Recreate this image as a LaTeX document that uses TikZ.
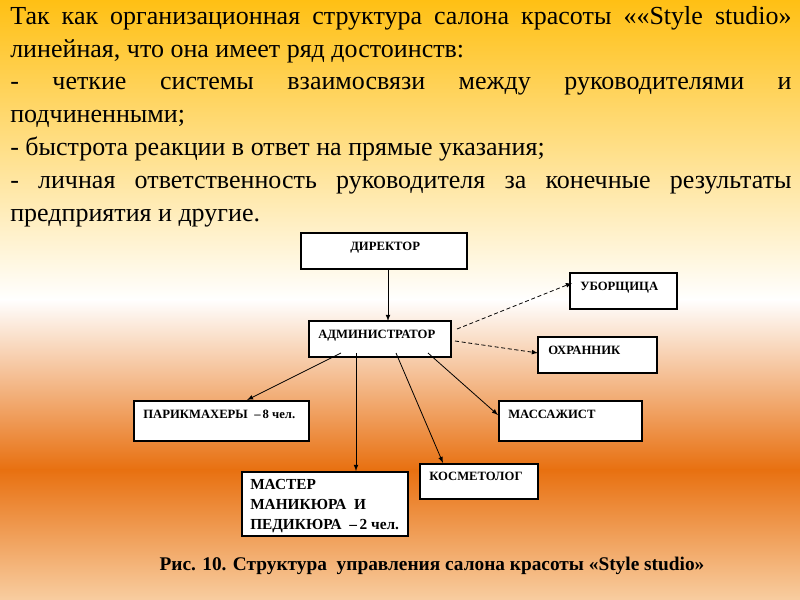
\documentclass[tikz,border=0pt]{standalone}
\usepackage{fontspec}
\setmainfont{Liberation Serif}
\begin{document}
\begin{tikzpicture}[x=0.75pt,y=-0.75pt,
 bx/.style={draw=black,line width=0.8pt,fill=white,inner sep=0pt},
 lb/.style={font=\fontsize{9.5}{11}\selectfont\bfseries,anchor=north west,align=left,inner sep=0pt},
 ar/.style={-latex,line width=0.6pt}]
\useasboundingbox (0,0) rectangle (800,600);
\shade[top color={rgb,255:red,255;green,192;blue,20},bottom color=white] (0,0) rectangle (800,300);
\shade[top color=white,bottom color={rgb,255:red,232;green,112;blue,16}] (0,299) rectangle (800,470);
\shade[top color={rgb,255:red,232;green,112;blue,16},bottom color={rgb,255:red,248;green,205;blue,160}] (0,469) rectangle (800,600);
\node[anchor=north west,text width=586pt,align=justify,inner sep=0pt,font=\fontsize{19.5}{24.6}\selectfont] (txt) at (10,6) {Так как организационная структура салона красоты ««Style studio» линейная, что она имеет ряд достоинств:\par
- четкие системы взаимосвязи между руководителями и подчиненными;\par
- быстрота реакции в ответ на прямые указания;\par
- личная ответственность руководителя за конечные результаты предприятия и другие.};
\draw[bx] (301,233) rectangle (467,269);
\node[lb] (ldir) at (350,242) {ДИРЕКТОР};
\draw[bx] (309,321) rectangle (451,357);
\node[lb] (ladm) at (318,330) {АДМИНИСТРАТОР};
\draw[bx] (570,273) rectangle (677,309);
\node[lb] (lub) at (580,282) {УБОРЩИЦА};
\draw[bx] (538,337) rectangle (657,373);
\node[lb] (loh) at (548,346) {ОХРАННИК};
\draw[bx] (134,401) rectangle (309,441);
\node[lb] (lpar) at (143,410) {ПАРИКМАХЕРЫ \ --\,8 чел.};
\draw[bx] (499,401) rectangle (642,441);
\node[lb] (lmas) at (508,410) {МАССАЖИСТ};
\draw[bx] (242,472) rectangle (408,536);
\node[lb,font=\fontsize{11.5}{15}\selectfont\bfseries] (lman) at (250,479) {МАСТЕР\\МАНИКЮРА \ И\\ПЕДИКЮРА \ --\,2 чел.};
\draw[bx] (420,464) rectangle (538,499);
\node[lb] (lkos) at (429,472) {КОСМЕТОЛОГ};
\coordinate (a1) at (388,269); \coordinate (b1) at (388,321);
\draw[ar] (a1) -- (b1);
\coordinate (a2) at (457,329); \coordinate (b2) at (572,283);
\draw[ar,densely dashed] (a2) -- (b2);
\coordinate (a3) at (455,341); \coordinate (b3) at (538,353);
\draw[ar,densely dashed] (a3) -- (b3);
\coordinate (a4) at (341,353); \coordinate (b4) at (247,400);
\draw[ar] (a4) -- (b4);
\coordinate (a5) at (356,353); \coordinate (b5) at (356,471);
\draw[ar] (a5) -- (b5);
\coordinate (a6) at (396,353); \coordinate (b6) at (443,463);
\draw[ar] (a6) -- (b6);
\coordinate (a7) at (428,353); \coordinate (b7) at (498,415);
\draw[ar] (a7) -- (b7);
\node[font=\fontsize{14.5}{16}\selectfont\bfseries] (cap) at (432,566) {Рис. 10. Структура \ управления салона красоты «Style studio»};
\end{tikzpicture}
\end{document}
